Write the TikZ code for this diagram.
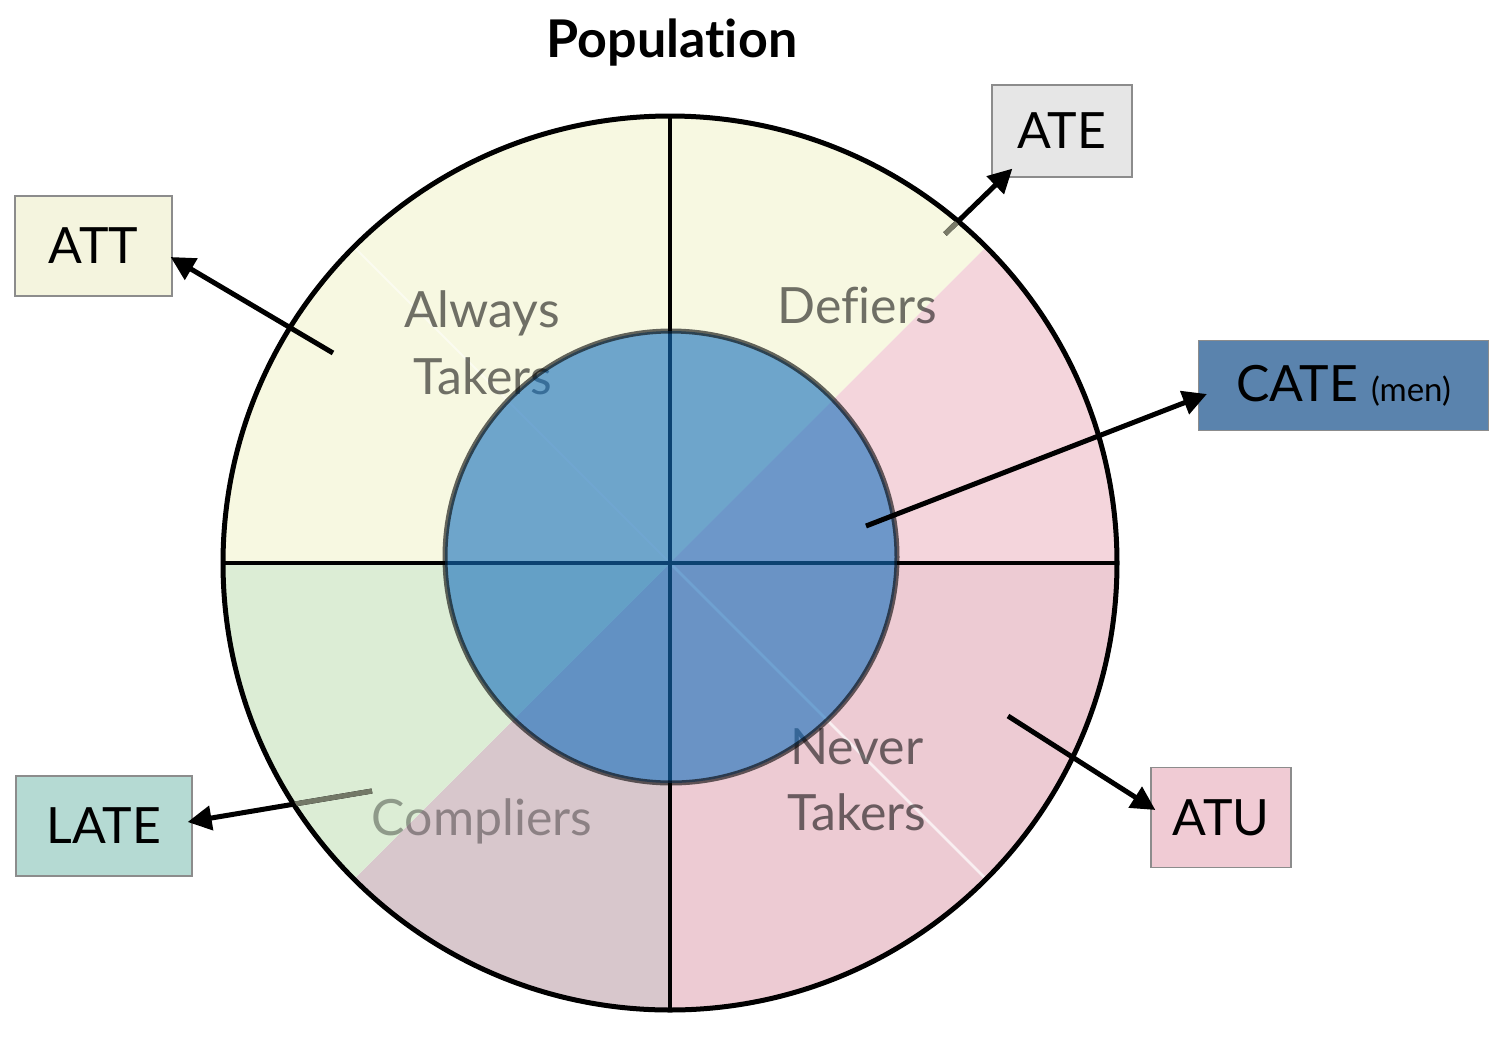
\documentclass[tikz,border=0pt]{standalone}
\usepackage{fontspec}
\setmainfont{Lato}[Ligatures=NoCommon]
\usetikzlibrary{arrows.meta,calc}
\definecolor{yel}{HTML}{F7F8E1}
\definecolor{pinkA}{HTML}{F4D5DC}
\definecolor{pinkB}{HTML}{EDCBD3}
\definecolor{mauve}{HTML}{D8C7CC}
\definecolor{grn}{HTML}{DCEDD5}
\definecolor{blueC}{RGB}{20,110,189}
\definecolor{attfill}{HTML}{F4F4DE}
\definecolor{atefill}{HTML}{E6E6E6}
\definecolor{catefill}{HTML}{5A83AD}
\definecolor{latefill}{HTML}{B5DAD3}
\definecolor{atufill}{HTML}{F0CBD4}
\definecolor{ategray}{HTML}{7A7B68}
\definecolor{lategray}{HTML}{737867}
\begin{document}
\begin{tikzpicture}[x=1pt,y=-1pt,
  box/.style={draw=black!45,line width=1.2pt,inner sep=0pt,font=\fontsize{50}{56}\selectfont},
  lab/.style={anchor=base,text=black,text opacity=0.55,font=\fontsize{50}{56}\selectfont},
  labc/.style={anchor=base,text=black,text opacity=0.35,font=\fontsize{50}{56}\selectfont},
  arr/.style={line width=5pt,-{Triangle[length=24pt,width=24pt]}},
  divider/.style={line width=3.5pt,black}
]
\useasboundingbox (0,0) rectangle (1502,1042);
\fill[white] (0,0) rectangle (1502,1042);
\coordinate (O) at (670,563);
\coordinate (I) at (671,557);
% sectors
\fill[yel] (O) -- ++(-45:447) arc[start angle=-45,end angle=-180,radius=447] -- cycle;
\fill[pinkA] (O) -- ++(0:447) arc[start angle=0,end angle=-45,radius=447] -- cycle;
\fill[pinkB] (O) -- ++(0:447) arc[start angle=0,end angle=90,radius=447] -- cycle;
\fill[mauve] (O) -- ++(90:447) arc[start angle=90,end angle=135,radius=447] -- cycle;
\fill[grn] (O) -- ++(135:447) arc[start angle=135,end angle=180,radius=447] -- cycle;
% faint diagonals
\draw[white,opacity=0.5,line width=2pt] (O) -- ++(-135:447);
\draw[white,opacity=0.7,line width=2.5pt] (O) -- ++(45:447);
% dividers
\draw[divider] ($(O)+(0,-447)$) -- ($(O)+(0,447)$);
\draw[divider] ($(O)+(-447,0)$) -- ($(O)+(447,0)$);
% interior labels
\node[lab] (always) at (482,327) {Always};
\node[lab] (takersA) at (483,394) {Takers};
\node[lab] (defiers) at (857,323) {Defiers};
\node[lab] (never) at (857,764) {Never};
\node[lab] (takersB) at (857,830) {Takers};
\node[labc] (compliers) at (482,835) {Compliers};
% inner circle
\draw[draw=black,draw opacity=0.6,line width=5pt,fill=blueC,fill opacity=0.6] (I) circle[radius=226];
% outer circle
\draw[line width=5pt] (O) circle[radius=447];
% title
\node[anchor=base,font=\bfseries\fontsize{52}{58}\selectfont] (title) at (672,57) {Population};
% boxes
\node[box,fill=attfill,minimum width=157pt,minimum height=100pt] (att) at (93.5,246) {ATT};
\node[box,fill=atefill,minimum width=140pt,minimum height=92pt] (ate) at (1062,131) {ATE};
\node[box,fill=catefill,minimum width=290pt,minimum height=90pt] (cate) at (1343.5,385.5) {CATE {\fontsize{33}{38}\selectfont(men)}};
\node[box,fill=latefill,minimum width=176pt,minimum height=100pt] (late) at (104,826) {LATE};
\node[box,fill=atufill,minimum width=140pt,minimum height=100pt] (atu) at (1221,817.5) {ATU};
% arrow anchors
\coordinate (attS) at (333,353);
\coordinate (attT) at ($(att.east)+(-2,11)$);
\coordinate (ateS) at (945,234);
\coordinate (ateT) at ($(ate.south west)+(21,-9)$);
\coordinate (cateS) at (866,526);
\coordinate (cateT) at ($(cate.west)+(9,8.5)$);
\coordinate (lateS) at (372,791);
\coordinate (lateT) at ($(late.east)+(-5,-4)$);
\coordinate (atuS) at (1008,716);
\coordinate (atuT) at ($(atu.west)+(5,-7.5)$);
\draw[arr] (attS) -- (attT);
\draw[arr] (ateS) -- (ateT);
\draw[arr] (cateS) -- (cateT);
\draw[arr] (lateS) -- (lateT);
\draw[arr] (atuS) -- (atuT);
\begin{scope}
\clip (O) circle[radius=445];
\draw[line width=5pt,ategray] (ateS) -- (ateT);
\draw[line width=5pt,lategray] (lateS) -- (lateT);
\end{scope}
\end{tikzpicture}
\end{document}
